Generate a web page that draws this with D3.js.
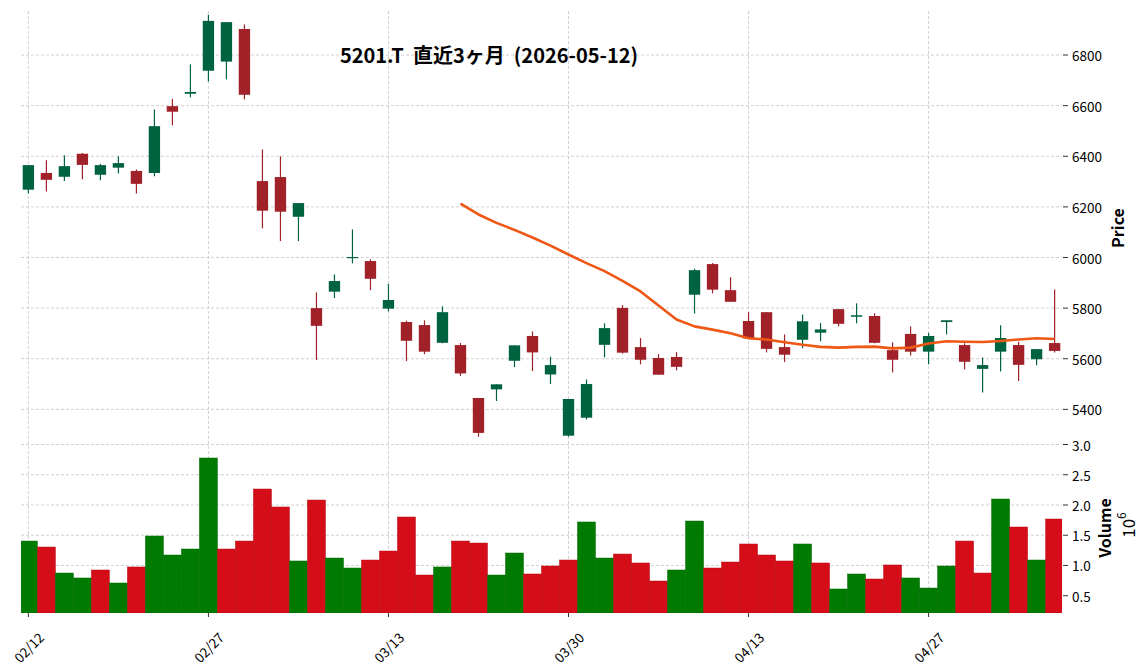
<!DOCTYPE html>
<html><head><meta charset="utf-8">
<script src="https://cdn.jsdelivr.net/npm/d3@7"></script>
<style>
body{margin:0;background:#fff}
text{font-family:"Noto Sans CJK JP","Noto Sans",sans-serif;fill:#000}
</style>
</head><body>
<svg id="chart" width="1148" height="670"></svg>
<script>
const dates=["02/12","02/13","02/16","02/17","02/18","02/19","02/20","02/24","02/25","02/26","02/27",
"03/02","03/03","03/04","03/05","03/06","03/09","03/10","03/11","03/12","03/13",
"03/16","03/17","03/18","03/19","03/23","03/24","03/25","03/26","03/27","03/30",
"03/31","04/01","04/02","04/03","04/06","04/07","04/08","04/09","04/10","04/13",
"04/14","04/15","04/16","04/17","04/20","04/21","04/22","04/23","04/24","04/27",
"04/28","04/30","05/01","05/07","05/08","05/11","05/12"];
const opens=[6268,6334,6319,6410,6327,6355,6342,6334,6598,6647,6738,6774,6903,6302,6318,6161,5800,5865,5998,5986,5798,5745,5733,5663,5654,5445,5479,5592,5690,5538,5296,5367,5655,5801,5646,5603,5607,5853,5974,5871,5749,5784,5646,5675,5703,5796,5766,5769,5634,5698,5628,5745,5654,5560,5628,5654,5598,5662];
const highs=[6365,6384,6404,6413,6369,6400,6348,6585,6627,6763,6959,6930,6921,6427,6400,6215,5862,5933,6111,5993,5896,5750,5752,5807,5662,5445,5499,5653,5708,5608,5441,5518,5740,5812,5682,5618,5626,5956,5978,5922,5784,5784,5696,5775,5741,5796,5819,5780,5665,5728,5702,5752,5661,5605,5732,5667,5638,5874];
const lows=[6253,6261,6302,6309,6305,6332,6253,6321,6522,6633,6696,6704,6625,6115,6065,6065,5595,5840,5977,5871,5787,5591,5618,5661,5532,5292,5433,5567,5551,5500,5292,5360,5605,5620,5578,5537,5554,5779,5858,5825,5680,5625,5587,5641,5669,5728,5740,5661,5546,5613,5578,5696,5558,5467,5550,5512,5574,5625];
const closes=[6365,6307,6361,6366,6365,6373,6291,6519,6576,6654,6935,6930,6643,6185,6181,6215,5730,5907,6002,5916,5832,5671,5628,5784,5542,5307,5499,5653,5625,5575,5441,5500,5721,5624,5596,5537,5568,5950,5873,5825,5680,5639,5616,5748,5716,5738,5772,5663,5596,5628,5690,5752,5588,5575,5682,5576,5638,5631];
const volumes=[1.404,1.305,0.875,0.793,0.925,0.710,0.975,1.487,1.173,1.272,2.777,1.272,1.404,2.264,1.967,1.074,2.082,1.123,0.958,1.090,1.239,1.801,0.842,0.975,1.404,1.371,0.842,1.206,0.859,0.991,1.090,1.719,1.123,1.189,1.041,0.743,0.925,1.735,0.958,1.057,1.355,1.173,1.074,1.355,1.041,0.611,0.859,0.776,1.008,0.793,0.627,0.991,1.404,0.875,2.099,1.636,1.090,1.768];
const volDir=["u","d","u","u","d","u","d","u","u","u","u","d","d","d","d","u","d","u","u","d","d","d","d","u","d","d","u","u","d","d","d","u","u","d","d","d","u","u","d","d","d","d","d","u","d","u","u","d","d","u","u","u","d","d","u","d","u","d"];
const ma25=[null,null,null,null,null,null,null,null,null,null,null,null,null,null,null,null,null,null,null,null,null,null,null,null,
6213,6170,6137,6109,6079,6047,6012,5978,5946,5908,5866,5810,5755,5728,5715,5701,5681,5676,5665,5655,5647,5644,5647,5648,5641,5644,5660,5669,5667,5666,5670,5676,5681,5678];
const priceTicks=[5400,5600,5800,6000,6200,6400,6600,6800];
const volTicks=[0.5,1.0,1.5,2.0,2.5,3.0];
const xTickIdx=[0,10,20,30,40,50];
const titleText="5201.T  直近3ヶ月  (2026-05-12)";

const C={up:"#006340",down:"#a02128",vup:"#007a00",vdown:"#d50d18",ma:"#ef5714",grid:"#c4c4c4"};
const L=21,R=1062,PT=11,PB=441,VT=441,VB=613;
const svg=d3.select("#chart");
const x=d3.scaleLinear().domain([-0.41,dates.length-1+0.41]).range([L,R]);
const yP=d3.scaleLinear().domain([5275,6974]).range([PB,PT]);
const yV=d3.scaleLinear().domain([0.214,3.058]).range([VB,VT]);
const step=x(1)-x(0);

const defs=svg.append("defs");
defs.append("clipPath").attr("id","cp").append("rect").attr("x",L).attr("y",PT).attr("width",R-L).attr("height",PB-PT);
defs.append("clipPath").attr("id","cv").append("rect").attr("x",L).attr("y",VT).attr("width",R-L).attr("height",VB-VT);

// grids
const g=svg.append("g").attr("stroke",C.grid).attr("stroke-width",0.8).attr("stroke-dasharray","3,2");
g.selectAll(".hp").data(priceTicks).join("line").attr("x1",L).attr("x2",R).attr("y1",d=>yP(d)).attr("y2",d=>yP(d));
g.selectAll(".hv").data(volTicks).join("line").attr("x1",L).attr("x2",R).attr("y1",d=>yV(d)).attr("y2",d=>yV(d));
g.selectAll(".vx").data(xTickIdx).join("line").attr("x1",d=>x(d)).attr("x2",d=>x(d)).attr("y1",PT).attr("y2",VB);

// volume bars
svg.append("g").attr("clip-path","url(#cv)").selectAll("rect").data(volumes).join("rect")
 .attr("x",(d,i)=>x(i)-step/2).attr("width",step)
 .attr("y",d=>yV(d)).attr("height",d=>VB-yV(d))
 .attr("fill",(d,i)=>volDir[i]==="u"?C.vup:C.vdown)
 .attr("stroke",(d,i)=>volDir[i]==="u"?"#006a00":"#b50b15").attr("stroke-width",0.5);

// candles
const cg=svg.append("g").attr("clip-path","url(#cp)");
const bw=step*0.63;
dates.forEach((d,i)=>{
  const up=closes[i]>=opens[i];
  const col=up?C.up:C.down;
  cg.append("line").attr("x1",x(i)).attr("x2",x(i)).attr("y1",yP(highs[i])).attr("y2",yP(lows[i])).attr("stroke",col).attr("stroke-width",1.2);
  const top=yP(Math.max(opens[i],closes[i])), bot=yP(Math.min(opens[i],closes[i]));
  cg.append("rect").attr("x",x(i)-bw/2).attr("width",bw).attr("y",top).attr("height",Math.max(1.2,bot-top)).attr("fill",col);
});

// MA line
const line=d3.line().defined(d=>d!=null).x((d,i)=>x(i)).y(d=>yP(d));
cg.append("path").datum(ma25).attr("d",line).attr("fill","none").attr("stroke",C.ma).attr("stroke-width",2.6).attr("stroke-linejoin","round");

// right axes
const ax=svg.append("g");
ax.selectAll(".tp").data(priceTicks).join("line").attr("x1",R+1).attr("x2",R+6).attr("y1",d=>yP(d)).attr("y2",d=>yP(d)).attr("stroke","#333");
ax.selectAll(".lp").data(priceTicks).join("text").attr("x",R+10).attr("y",d=>yP(d)).attr("dominant-baseline","central").attr("font-size",13.5).text(d=>d);
ax.selectAll(".tv").data(volTicks).join("line").attr("x1",R+1).attr("x2",R+6).attr("y1",d=>yV(d)).attr("y2",d=>yV(d)).attr("stroke","#333");
ax.selectAll(".lv").data(volTicks).join("text").attr("x",R+10).attr("y",d=>yV(d)).attr("dominant-baseline","central").attr("font-size",13.5).text(d=>d.toFixed(1));

// x ticks
ax.selectAll(".tx").data(xTickIdx).join("line").attr("x1",d=>x(d)).attr("x2",d=>x(d)).attr("y1",VB).attr("y2",VB+4).attr("stroke","#333");
ax.selectAll(".lx").data(xTickIdx).join("text")
 .attr("transform",d=>`translate(${x(d)},647) rotate(-45)`)
 .attr("text-anchor","middle").attr("dominant-baseline","central").attr("font-size",13.5).text(d=>dates[d]);

// labels
svg.append("text").attr("transform","translate(1117,228) rotate(-90)").attr("text-anchor","middle").attr("dominant-baseline","central")
 .attr("font-size",16).attr("font-weight","bold").text("Price");
svg.append("text").attr("transform","translate(1104,528) rotate(-90)").attr("text-anchor","middle").attr("dominant-baseline","central")
 .attr("font-size",16).attr("font-weight","bold").text("Volume");
const off=svg.append("text").attr("transform","translate(1127,525) rotate(-90)").attr("text-anchor","middle").attr("dominant-baseline","central").attr("font-size",17);
off.append("tspan").text("10");
off.append("tspan").attr("dy",-7).attr("font-size",12).text("6");

// title
svg.append("text").attr("x",489).attr("y",54).attr("text-anchor","middle").attr("dominant-baseline","central")
 .attr("font-size",20).attr("font-weight","bold").style("white-space","pre").text(titleText);
</script>
</body></html>
